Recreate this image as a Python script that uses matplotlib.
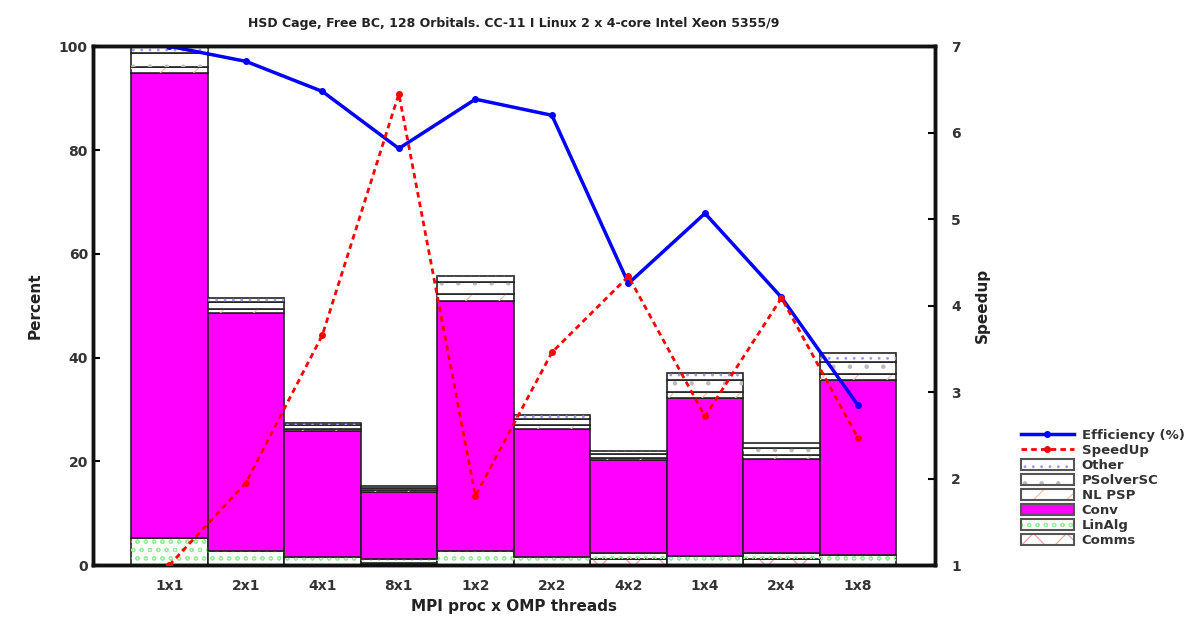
import matplotlib
matplotlib.use("Agg")
import matplotlib.pyplot as plt
from matplotlib.patches import Patch
from matplotlib.legend_handler import HandlerTuple
import numpy as np

categories = ["1x1", "2x1", "4x1", "8x1", "1x2", "2x2", "4x2", "1x4", "2x4", "1x8"]

# stacked components (percent of 1x1 time)
comms     = [0.0, 0.0, 0.0, 0.5, 0.0, 0.0, 1.2, 0.0, 1.2, 0.0]
linalg    = [5.2, 2.8, 1.5, 0.6, 2.8, 1.5, 1.2, 1.8, 1.1, 2.0]
conv      = [89.7, 45.8, 24.3, 13.0, 48.2, 24.7, 17.8, 30.4, 18.1, 33.6]
nl_psp    = [1.2, 0.8, 0.4, 0.4, 1.2, 0.8, 0.5, 1.2, 0.8, 1.2]
psolver   = [2.7, 1.4, 0.8, 0.4, 2.3, 1.2, 0.7, 2.2, 1.4, 2.4]
other     = [1.2, 0.6, 0.4, 0.3, 1.2, 0.7, 0.6, 1.4, 0.9, 1.6]

efficiency = [100.0, 97.1, 91.3, 80.3, 89.8, 86.7, 54.3, 67.8, 51.6, 30.8]
speedup    = [1.0, 1.95, 3.66, 6.45, 1.8, 3.46, 4.34, 2.72, 4.09, 2.47]

title = "HSD Cage, Free BC, 128 Orbitals. CC-11 I Linux 2 x 4-core Intel Xeon 5355/9"

plt.rcParams['font.family'] = ['DejaVu Sans']
plt.rcParams['hatch.linewidth'] = 0.8

fig = plt.figure(figsize=(11.89, 6.17), dpi=100)
ax = fig.add_axes([0.078, 0.084, 0.708, 0.841])
ax2 = ax.twinx()

x = np.arange(len(categories))
layers = [
    ("Comms", comms, dict(facecolor="white", hatch="x", hatch_color="#ff9999")),
    ("LinAlg", linalg, dict(facecolor="white", hatch="oo", hatch_color="#99ee99")),
    ("Conv", conv, dict(facecolor="#ff00ff", hatch=None, hatch_color=None)),
    ("NL PSP", nl_psp, dict(facecolor="white", hatch="/", hatch_color="#ffbb99")),
    ("PSolverSC", psolver, dict(facecolor="white", hatch=".", hatch_color="#bbbbbb")),
    ("Other", other, dict(facecolor="white", hatch="..", hatch_color="#9999ff")),
]
bottom = np.zeros(len(categories))
proxies = {}
for name, vals, st in layers:
    vals = np.array(vals)
    ax.bar(x, vals, width=1.0, bottom=bottom, color=st["facecolor"],
           edgecolor="#222222", linewidth=1.2)
    if st["hatch"]:
        ax.bar(x, vals, width=1.0, bottom=bottom, color="none",
               edgecolor=st["hatch_color"], linewidth=0, hatch=st["hatch"])
        fill = Patch(facecolor="white", edgecolor=st["hatch_color"], hatch=st["hatch"], linewidth=0)
        outline = Patch(facecolor="none", edgecolor="#555555", linewidth=1.5)
        proxies[name] = (fill, outline)
    else:
        proxies[name] = Patch(facecolor=st["facecolor"], edgecolor="#555555", linewidth=1.5)
    bottom += vals

eff_line, = ax.plot(x, efficiency, color="#0000ff", linewidth=2.5, marker="o",
                    markersize=4, zorder=5)
sp_line, = ax2.plot(x, speedup, color="#ff0000", linewidth=2, linestyle=(0, (2, 1.5)),
                    marker="o", markersize=4, zorder=5)

ax.set_xlim(-1, 10)
ax.set_ylim(0, 100)
ax2.set_ylim(1, 7)
ax.set_xticks(x)
ax.set_xticklabels(categories, fontsize=10, fontweight="bold", color="#333333")
ax.set_yticks([0, 20, 40, 60, 80, 100])
ax.set_yticklabels(["0", "20", "40", "60", "80", "100"], fontsize=10, fontweight="bold", color="#333333")
ax2.set_yticks([1, 2, 3, 4, 5, 6, 7])
ax2.set_yticklabels([str(i) for i in range(1, 8)], fontsize=10, fontweight="bold", color="#333333")
ax.tick_params(axis="both", direction="in", length=5, width=1.5)
ax.tick_params(axis="x", length=0, pad=10)
ax2.tick_params(axis="y", direction="in", length=5, width=1.5, pad=12)
for a in (ax, ax2):
    for s in a.spines.values():
        s.set_linewidth(2.5)
        s.set_color("#111111")

ax.set_xlabel("MPI proc x OMP threads", fontsize=11, fontweight="bold", color="#222222")
ax.set_ylabel("Percent", fontsize=11, fontweight="bold", color="#222222", labelpad=12)
ax2.set_ylabel("Speedup", fontsize=11, fontweight="bold", color="#222222", labelpad=10)
ax.set_title(title, fontsize=9, fontweight="bold", color="#222222", pad=14)

order = ["Other", "PSolverSC", "NL PSP", "Conv", "LinAlg", "Comms"]
leg_handles = [eff_line, sp_line] + [proxies[n] for n in order]
leg_labels = ["Efficiency (%)", "SpeedUp"] + order
leg = fig.legend(leg_handles, leg_labels, loc="upper left", bbox_to_anchor=(0.853, 0.315),
                 frameon=False, fontsize=9.5, handlelength=4.0, handleheight=0.9,
                 labelspacing=0.15, borderpad=0, handletextpad=0.6,
                 handler_map={tuple: HandlerTuple(ndivide=1, pad=0)})
for t in leg.get_texts():
    t.set_fontweight("bold")
    t.set_color("#333333")

fig.savefig("out.png", dpi=100)
